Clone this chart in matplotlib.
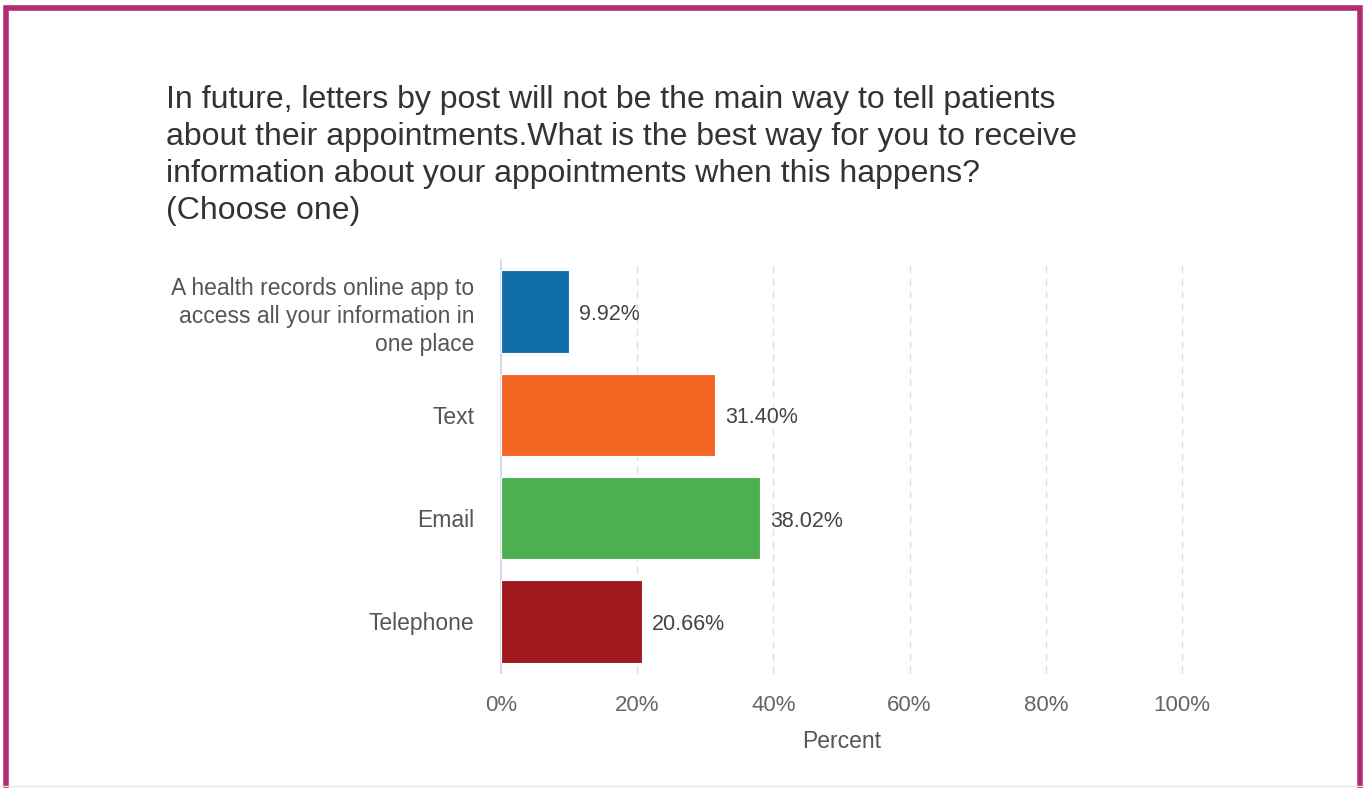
import matplotlib
matplotlib.use('Agg')
import matplotlib.pyplot as plt
from matplotlib.patches import Rectangle
from matplotlib.ticker import FuncFormatter

plt.rcParams['font.family'] = ['Liberation Sans', 'DejaVu Sans']

# survey responses (percent of respondents)
categories = [
    'A health records online app to\naccess all your information in\none place',
    'Text',
    'Email',
    'Telephone',
]
percents = [9.92, 31.40, 38.02, 20.66]
bar_colors = ['#106EA8', '#F26522', '#4CAF50', '#A0191C']
x_ticks = [0, 20, 40, 60, 80, 100]

title = ('In future, letters by post will not be the main way to tell patients\n'
         'about their appointments.What is the best way for you to receive\n'
         'information about your appointments when this happens?\n'
         '(Choose one)')

fig = plt.figure(figsize=(13.64, 7.88), dpi=100)
fig.patch.set_facecolor('white')

# framed page border (bottom edge runs off the page)
fig.patches.append(Rectangle((6 / 1364, -0.05), 1354 / 1364, 1.05 - 7.5 / 788,
                             transform=fig.transFigure, fill=False,
                             edgecolor='#B02D72', linewidth=4, zorder=0))
fig.add_artist(plt.Line2D([0, 1], [2 / 788, 2 / 788], transform=fig.transFigure,
                          color='#E6E6E6', linewidth=1))

fig.text(166 / 1364, 1 - 85 / 788, title, ha='left', va='top',
         fontsize=23, color='#333333', linespacing=1.3)

ax = fig.add_axes([501 / 1364, 1 - 673 / 788, 681 / 1364, 413 / 788])
y_pos = range(len(categories))
bars = ax.barh(y_pos, percents, height=0.8, color=bar_colors,
               edgecolor='white', linewidth=0.8, zorder=3)

for bar, val in zip(bars, percents):
    ax.text(bar.get_width() + 1.5, bar.get_y() + bar.get_height() / 2 + 0.03,
            f'{val:.2f}%', va='center', ha='left', fontsize=15.5, color='#444444')

ax.set_xlim(0, 100)
ax.set_ylim(len(categories) - 0.5, -0.5)
ax.set_xticks(x_ticks)
ax.xaxis.set_major_formatter(FuncFormatter(lambda v, _: f'{v:.0f}%'))
ax.set_yticks(list(y_pos))
ax.set_yticklabels(categories, fontsize=16.5, color='#555555', linespacing=1.27)
ax.tick_params(axis='x', labelsize=16, labelcolor='#666666', length=0, pad=16)
ax.tick_params(axis='y', length=0, pad=19)

ax.grid(axis='x', color='#DDDDDD', linestyle=(0, (5, 4)), linewidth=1, zorder=0,
        clip_on=False)
for side in ['top', 'right', 'bottom']:
    ax.spines[side].set_visible(False)
ax.spines['left'].set_color('#C9D7EE')
ax.spines['left'].set_linewidth(1.2)

ax.set_xlabel('Percent', fontsize=16.5, color='#555555', labelpad=10)

fig.savefig('out.png', dpi=100)
